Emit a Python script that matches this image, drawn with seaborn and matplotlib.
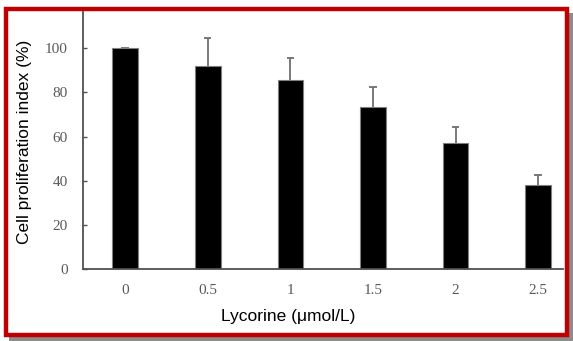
import matplotlib
matplotlib.use("Agg")
import matplotlib.pyplot as plt
from matplotlib.patches import Rectangle
import seaborn as sns
import pandas as pd
import numpy as np

# Data
doses = ["0", "0.5", "1", "1.5", "2", "2.5"]
values = [100.0, 92.1, 85.5, 73.3, 56.9, 38.2]
errors = [0.3, 12.6, 10.2, 9.2, 7.4, 4.2]
yticks = [0, 20, 40, 60, 80, 100]

sns.set_theme(style="white")
plt.rcParams['font.family'] = ['Liberation Sans', 'DejaVu Sans']

W, H = 573, 341
fig = plt.figure(figsize=(W / 100, H / 100), dpi=100)

def fx(px):
    return px / W

def fy(py):
    return 1 - py / H

# shadow + red frame
fig.patches.append(Rectangle((fx(9), fy(341)), fx(564), 328 / H, transform=fig.transFigure,
                             facecolor="#8c8c8c", edgecolor="none", zorder=0))
fig.patches.append(Rectangle((fx(5.5), fy(334.5)), fx(561), 326 / H, transform=fig.transFigure,
                             facecolor="white", edgecolor="#c00000", linewidth=3.2, zorder=1))

ax = fig.add_axes([fx(83), fy(269), fx(480), (269 - 12) / H])
ax.set_facecolor("none")
ax.set_zorder(2)

df = pd.DataFrame({"dose": doses, "value": values})
sns.barplot(data=df, x="dose", y="value", ax=ax, color="black", width=0.31,
            edgecolor="#7f7f7f", linewidth=0.8, errorbar=None, saturation=1)
bars = list(ax.patches)
for p in bars:
    p.set_zorder(5)

xs = np.array([p.get_x() + p.get_width() / 2 for p in bars])
vals = np.array(values)
errs = np.array(errors)
tops = vals + errs
ax.vlines(xs, vals, tops, colors="#6e6e6e", linewidth=1.3, zorder=1)
ax.hlines(tops, xs - 0.045, xs + 0.045, colors="#6e6e6e", linewidth=1.3, zorder=1)

ax.set_xlim(-0.51, 5.30)
ax.set_ylim(0, 116.4)
ax.set_yticks(yticks)
ax.set_yticklabels([str(t) for t in yticks])

for s in ["top", "right"]:
    ax.spines[s].set_visible(False)
for s in ["left", "bottom"]:
    ax.spines[s].set_color("#505050")
    ax.spines[s].set_linewidth(1.3)
    ax.spines[s].set_zorder(6)

ax.tick_params(axis="y", direction="in", length=3, width=1, color="#505050", pad=11,
               labelsize=11, labelcolor="#595959", left=True)
ax.tick_params(axis="x", length=0, pad=11, labelsize=11, labelcolor="#595959")
for lab in ax.get_xticklabels() + ax.get_yticklabels():
    lab.set_family("Liberation Serif")

ax.set_xlabel("")
ax.set_ylabel("")

fig.text(fx(25), fy(142), "Cell proliferation index (%)", rotation=90, ha="center", va="center",
         fontsize=12.5, color="black", zorder=3)
fig.text(fx(288), fy(316), "Lycorine (μmol/L)", ha="center", va="center",
         fontsize=12.5, color="black", zorder=3)

fig.savefig("out.png", dpi=100)
